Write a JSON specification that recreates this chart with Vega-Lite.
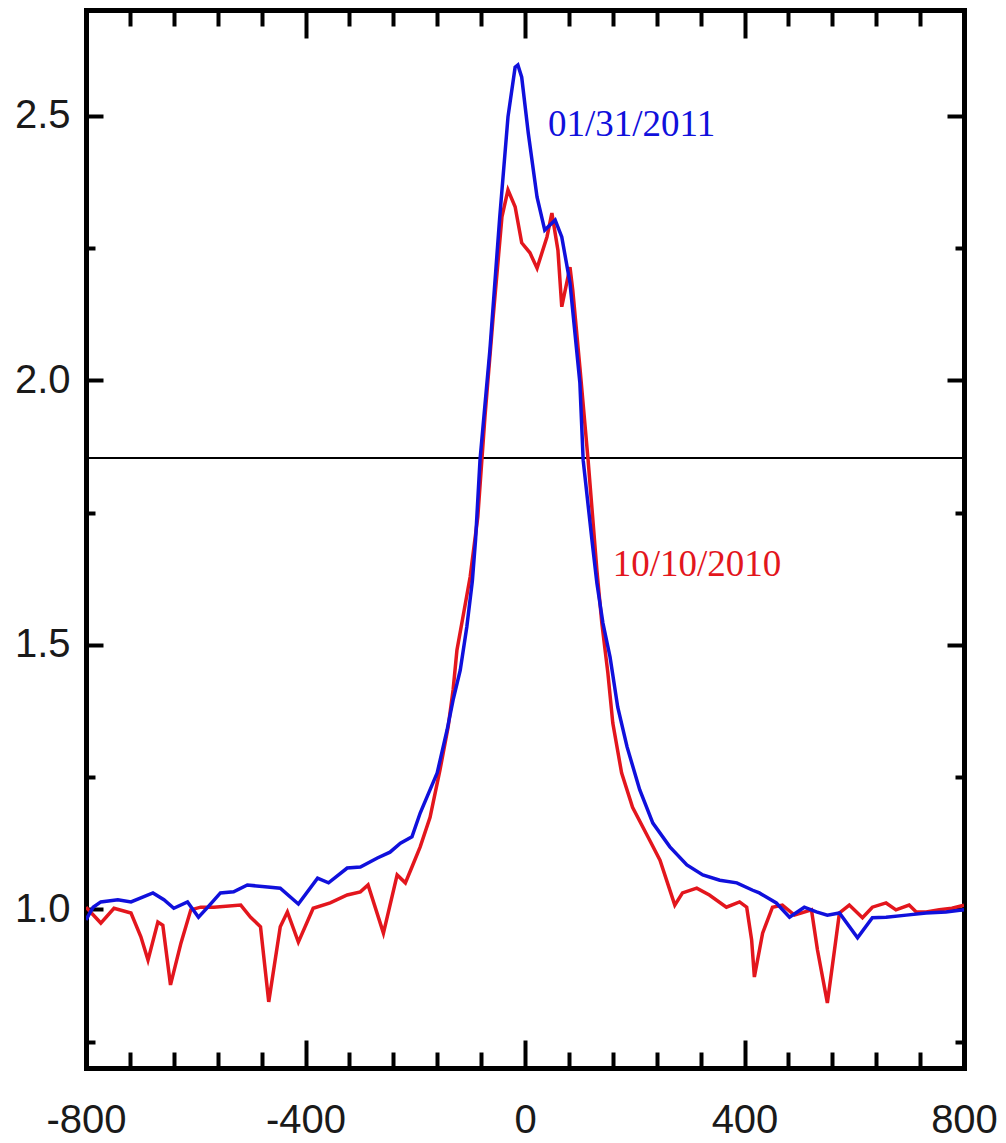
{
  "$schema": "https://vega.github.io/schema/vega-lite/v6.json",
  "width": 878,
  "height": 1058,
  "autosize": {"type": "none"},
  "padding": {"left": 86, "top": 10, "right": 42, "bottom": 75},
  "background": "white",
  "config": {
    "view": {"stroke": null},
    "axis": {
      "domainColor": "black",
      "domainWidth": 5,
      "domainCap": "square",
      "tickColor": "black",
      "tickWidth": 4,
      "grid": false,
      "title": null,
      "labelColor": "#1a1a1a",
      "labelFont": "Liberation Sans",
      "labelFontSize": 40,
      "labelFlush": false,
      "labelOverlap": false
    }
  },
  "data": {
    "values": [
      {"date": "10/10/2010", "x": -800, "y": 1.004}, {"date": "10/10/2010", "x": -773, "y": 0.974}, {"date": "10/10/2010", "x": -749, "y": 1.002}, {"date": "10/10/2010", "x": -718, "y": 0.993}, {"date": "10/10/2010", "x": -700, "y": 0.948}, {"date": "10/10/2010", "x": -687, "y": 0.904}, {"date": "10/10/2010", "x": -669, "y": 0.976}, {"date": "10/10/2010", "x": -660, "y": 0.970}, {"date": "10/10/2010", "x": -646, "y": 0.857}, {"date": "10/10/2010", "x": -627, "y": 0.936}, {"date": "10/10/2010", "x": -609, "y": 0.999}, {"date": "10/10/2010", "x": -591, "y": 1.004}, {"date": "10/10/2010", "x": -567, "y": 1.004}, {"date": "10/10/2010", "x": -518, "y": 1.008}, {"date": "10/10/2010", "x": -500, "y": 0.985}, {"date": "10/10/2010", "x": -482, "y": 0.967}, {"date": "10/10/2010", "x": -467, "y": 0.825}, {"date": "10/10/2010", "x": -446, "y": 0.967}, {"date": "10/10/2010", "x": -433, "y": 0.995}, {"date": "10/10/2010", "x": -413, "y": 0.938}, {"date": "10/10/2010", "x": -386, "y": 1.002}, {"date": "10/10/2010", "x": -355, "y": 1.012}, {"date": "10/10/2010", "x": -324, "y": 1.027}, {"date": "10/10/2010", "x": -300, "y": 1.033}, {"date": "10/10/2010", "x": -286, "y": 1.046}, {"date": "10/10/2010", "x": -258, "y": 0.955}, {"date": "10/10/2010", "x": -233, "y": 1.065}, {"date": "10/10/2010", "x": -218, "y": 1.050}, {"date": "10/10/2010", "x": -206, "y": 1.080}, {"date": "10/10/2010", "x": -191, "y": 1.118}, {"date": "10/10/2010", "x": -173, "y": 1.174}, {"date": "10/10/2010", "x": -155, "y": 1.263}, {"date": "10/10/2010", "x": -140, "y": 1.345}, {"date": "10/10/2010", "x": -131, "y": 1.415}, {"date": "10/10/2010", "x": -124, "y": 1.490}, {"date": "10/10/2010", "x": -113, "y": 1.553}, {"date": "10/10/2010", "x": -100, "y": 1.628}, {"date": "10/10/2010", "x": -86, "y": 1.742}, {"date": "10/10/2010", "x": -73, "y": 1.931}, {"date": "10/10/2010", "x": -58, "y": 2.120}, {"date": "10/10/2010", "x": -42, "y": 2.309}, {"date": "10/10/2010", "x": -31, "y": 2.360}, {"date": "10/10/2010", "x": -18, "y": 2.328}, {"date": "10/10/2010", "x": -6, "y": 2.260}, {"date": "10/10/2010", "x": 9, "y": 2.241}, {"date": "10/10/2010", "x": 22, "y": 2.212}, {"date": "10/10/2010", "x": 40, "y": 2.271}, {"date": "10/10/2010", "x": 49, "y": 2.316}, {"date": "10/10/2010", "x": 60, "y": 2.246}, {"date": "10/10/2010", "x": 67, "y": 2.139}, {"date": "10/10/2010", "x": 82, "y": 2.214}, {"date": "10/10/2010", "x": 87, "y": 2.171}, {"date": "10/10/2010", "x": 100, "y": 2.025}, {"date": "10/10/2010", "x": 115, "y": 1.849}, {"date": "10/10/2010", "x": 131, "y": 1.641}, {"date": "10/10/2010", "x": 140, "y": 1.541}, {"date": "10/10/2010", "x": 151, "y": 1.447}, {"date": "10/10/2010", "x": 160, "y": 1.352}, {"date": "10/10/2010", "x": 176, "y": 1.258}, {"date": "10/10/2010", "x": 196, "y": 1.193}, {"date": "10/10/2010", "x": 227, "y": 1.131}, {"date": "10/10/2010", "x": 246, "y": 1.093}, {"date": "10/10/2010", "x": 273, "y": 1.008}, {"date": "10/10/2010", "x": 287, "y": 1.031}, {"date": "10/10/2010", "x": 313, "y": 1.040}, {"date": "10/10/2010", "x": 336, "y": 1.027}, {"date": "10/10/2010", "x": 367, "y": 1.004}, {"date": "10/10/2010", "x": 391, "y": 1.014}, {"date": "10/10/2010", "x": 404, "y": 1.004}, {"date": "10/10/2010", "x": 413, "y": 0.942}, {"date": "10/10/2010", "x": 418, "y": 0.872}, {"date": "10/10/2010", "x": 433, "y": 0.955}, {"date": "10/10/2010", "x": 451, "y": 1.004}, {"date": "10/10/2010", "x": 469, "y": 1.008}, {"date": "10/10/2010", "x": 491, "y": 0.989}, {"date": "10/10/2010", "x": 522, "y": 0.999}, {"date": "10/10/2010", "x": 533, "y": 0.923}, {"date": "10/10/2010", "x": 551, "y": 0.823}, {"date": "10/10/2010", "x": 564, "y": 0.923}, {"date": "10/10/2010", "x": 573, "y": 0.993}, {"date": "10/10/2010", "x": 591, "y": 1.008}, {"date": "10/10/2010", "x": 615, "y": 0.984}, {"date": "10/10/2010", "x": 633, "y": 1.004}, {"date": "10/10/2010", "x": 658, "y": 1.012}, {"date": "10/10/2010", "x": 676, "y": 0.999}, {"date": "10/10/2010", "x": 700, "y": 1.008}, {"date": "10/10/2010", "x": 713, "y": 0.995}, {"date": "10/10/2010", "x": 731, "y": 0.995}, {"date": "10/10/2010", "x": 755, "y": 0.999}, {"date": "10/10/2010", "x": 778, "y": 1.002}, {"date": "10/10/2010", "x": 800, "y": 1.008},
      {"date": "01/31/2011", "x": -800, "y": 0.980}, {"date": "01/31/2011", "x": -787, "y": 1.004}, {"date": "01/31/2011", "x": -773, "y": 1.014}, {"date": "01/31/2011", "x": -742, "y": 1.018}, {"date": "01/31/2011", "x": -718, "y": 1.014}, {"date": "01/31/2011", "x": -678, "y": 1.031}, {"date": "01/31/2011", "x": -658, "y": 1.018}, {"date": "01/31/2011", "x": -640, "y": 1.002}, {"date": "01/31/2011", "x": -615, "y": 1.014}, {"date": "01/31/2011", "x": -595, "y": 0.985}, {"date": "01/31/2011", "x": -578, "y": 1.004}, {"date": "01/31/2011", "x": -555, "y": 1.031}, {"date": "01/31/2011", "x": -531, "y": 1.033}, {"date": "01/31/2011", "x": -506, "y": 1.046}, {"date": "01/31/2011", "x": -469, "y": 1.042}, {"date": "01/31/2011", "x": -446, "y": 1.040}, {"date": "01/31/2011", "x": -413, "y": 1.010}, {"date": "01/31/2011", "x": -378, "y": 1.059}, {"date": "01/31/2011", "x": -358, "y": 1.050}, {"date": "01/31/2011", "x": -324, "y": 1.078}, {"date": "01/31/2011", "x": -300, "y": 1.080}, {"date": "01/31/2011", "x": -269, "y": 1.097}, {"date": "01/31/2011", "x": -246, "y": 1.108}, {"date": "01/31/2011", "x": -227, "y": 1.125}, {"date": "01/31/2011", "x": -206, "y": 1.137}, {"date": "01/31/2011", "x": -191, "y": 1.182}, {"date": "01/31/2011", "x": -160, "y": 1.258}, {"date": "01/31/2011", "x": -142, "y": 1.339}, {"date": "01/31/2011", "x": -131, "y": 1.396}, {"date": "01/31/2011", "x": -118, "y": 1.452}, {"date": "01/31/2011", "x": -106, "y": 1.534}, {"date": "01/31/2011", "x": -96, "y": 1.620}, {"date": "01/31/2011", "x": -90, "y": 1.700}, {"date": "01/31/2011", "x": -82, "y": 1.849}, {"date": "01/31/2011", "x": -64, "y": 2.057}, {"date": "01/31/2011", "x": -46, "y": 2.309}, {"date": "01/31/2011", "x": -31, "y": 2.498}, {"date": "01/31/2011", "x": -18, "y": 2.592}, {"date": "01/31/2011", "x": -13, "y": 2.596}, {"date": "01/31/2011", "x": -6, "y": 2.573}, {"date": "01/31/2011", "x": 6, "y": 2.467}, {"date": "01/31/2011", "x": 22, "y": 2.346}, {"date": "01/31/2011", "x": 36, "y": 2.284}, {"date": "01/31/2011", "x": 55, "y": 2.303}, {"date": "01/31/2011", "x": 67, "y": 2.271}, {"date": "01/31/2011", "x": 82, "y": 2.184}, {"date": "01/31/2011", "x": 100, "y": 1.995}, {"date": "01/31/2011", "x": 106, "y": 1.849}, {"date": "01/31/2011", "x": 122, "y": 1.698}, {"date": "01/31/2011", "x": 131, "y": 1.617}, {"date": "01/31/2011", "x": 142, "y": 1.541}, {"date": "01/31/2011", "x": 155, "y": 1.477}, {"date": "01/31/2011", "x": 169, "y": 1.382}, {"date": "01/31/2011", "x": 186, "y": 1.307}, {"date": "01/31/2011", "x": 209, "y": 1.226}, {"date": "01/31/2011", "x": 233, "y": 1.163}, {"date": "01/31/2011", "x": 264, "y": 1.118}, {"date": "01/31/2011", "x": 295, "y": 1.084}, {"date": "01/31/2011", "x": 324, "y": 1.065}, {"date": "01/31/2011", "x": 355, "y": 1.055}, {"date": "01/31/2011", "x": 386, "y": 1.050}, {"date": "01/31/2011", "x": 415, "y": 1.036}, {"date": "01/31/2011", "x": 427, "y": 1.031}, {"date": "01/31/2011", "x": 458, "y": 1.012}, {"date": "01/31/2011", "x": 482, "y": 0.985}, {"date": "01/31/2011", "x": 509, "y": 1.004}, {"date": "01/31/2011", "x": 531, "y": 0.995}, {"date": "01/31/2011", "x": 551, "y": 0.989}, {"date": "01/31/2011", "x": 573, "y": 0.993}, {"date": "01/31/2011", "x": 606, "y": 0.946}, {"date": "01/31/2011", "x": 633, "y": 0.984}, {"date": "01/31/2011", "x": 658, "y": 0.985}, {"date": "01/31/2011", "x": 695, "y": 0.989}, {"date": "01/31/2011", "x": 731, "y": 0.993}, {"date": "01/31/2011", "x": 767, "y": 0.995}, {"date": "01/31/2011", "x": 800, "y": 0.999}
    ]
  },
  "layer": [
    {
      "mark": {"type": "rule", "color": "black", "strokeWidth": 2},
      "encoding": {"y": {"datum": 1.853, "type": "quantitative", "axis": null}}
    },
    {
      "mark": {"type": "line", "strokeWidth": 3.5, "clip": true},
      "encoding": {
        "x": {
          "field": "x", "type": "quantitative",
          "scale": {"domain": [-800, 800], "nice": false, "zero": false},
          "axis": {
            "orient": "bottom",
            "values": [-800, -720, -640, -560, -480, -400, -320, -240, -160, -80, 0, 80, 160, 240, 320, 400, 480, 560, 640, 720, 800],
            "tickSize": {"condition": {"test": "datum.value % 400 === 0", "value": -28}, "value": -16},
            "labelExpr": "datum.value % 400 === 0 ? (datum.value < 0 ? '-' + abs(datum.value) : '' + datum.value) : ''",
            "labelPadding": 60
          }
        },
        "y": {
          "field": "y", "type": "quantitative",
          "scale": {"domain": [0.7, 2.7], "nice": false, "zero": false},
          "axis": {
            "orient": "left",
            "values": [0.75, 1, 1.25, 1.5, 1.75, 2, 2.25, 2.5],
            "tickSize": {"condition": {"test": "datum.value % 0.5 === 0", "value": -17}, "value": -9},
            "labelExpr": "datum.value % 0.5 === 0 ? format(datum.value, '.1f') : ''",
            "labelPadding": 33
          }
        },
        "color": {
          "field": "date", "type": "nominal",
          "scale": {"domain": ["10/10/2010", "01/31/2011"], "range": ["#e3161d", "#1010dc"]},
          "legend": null
        },
        "order": {"field": "x", "type": "quantitative"}
      }
    },
    {
      "data": {"values": [{"label": "01/31/2011"}]},
      "mark": {"type": "text", "color": "#1010dc", "font": "Liberation Serif", "fontSize": 37, "align": "left", "baseline": "middle"},
      "encoding": {
        "text": {"field": "label"},
        "x": {
          "datum": 42, "type": "quantitative",
          "axis": {
            "orient": "top",
            "values": [-800, -720, -640, -560, -480, -400, -320, -240, -160, -80, 0, 80, 160, 240, 320, 400, 480, 560, 640, 720, 800],
            "tickSize": {"condition": {"test": "datum.value % 400 === 0", "value": -28}, "value": -16},
            "labels": false
          }
        },
        "y": {
          "datum": 2.483, "type": "quantitative",
          "axis": {
            "orient": "right",
            "values": [0.75, 1, 1.25, 1.5, 1.75, 2, 2.25, 2.5],
            "tickSize": {"condition": {"test": "datum.value % 0.5 === 0", "value": -17}, "value": -9},
            "labels": false
          }
        }
      }
    },
    {
      "data": {"values": [{"label": "10/10/2010"}]},
      "mark": {"type": "text", "color": "#e3161d", "font": "Liberation Serif", "fontSize": 37, "align": "left", "baseline": "middle"},
      "encoding": {
        "text": {"field": "label"},
        "x": {"datum": 160, "type": "quantitative", "axis": null},
        "y": {"datum": 1.651, "type": "quantitative", "axis": null}
      }
    }
  ]
}
